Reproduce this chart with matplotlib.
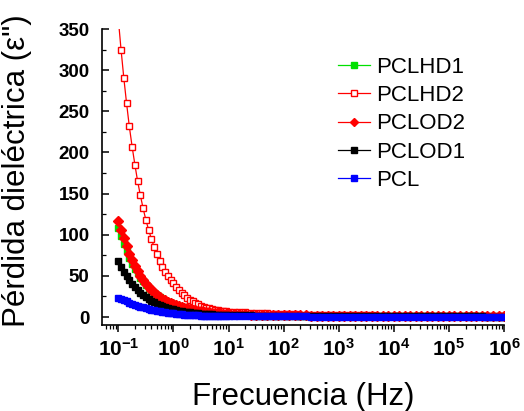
import matplotlib
matplotlib.use("Agg")
import matplotlib.pyplot as plt
from matplotlib.ticker import LogLocator, MultipleLocator, NullFormatter

plt.rcParams['font.family'] = ['Liberation Sans', 'DejaVu Sans']
plt.rcParams['mathtext.fontset'] = 'custom'
plt.rcParams['mathtext.rm'] = 'Liberation Sans'
plt.rcParams['mathtext.bf'] = 'Liberation Sans:bold'

# frequency grid (Hz): 20 pts/decade up to 10 Hz, 10 pts/decade after
freq = [0.1, 0.112, 0.126, 0.141, 0.158, 0.178, 0.2, 0.224, 0.251, 0.282,
        0.316, 0.355, 0.398, 0.447, 0.501, 0.562, 0.631, 0.708, 0.794, 0.891,
        1.0, 1.12, 1.26, 1.41, 1.58, 1.78, 2.0, 2.24, 2.51, 2.82,
        3.16, 3.55, 3.98, 4.47, 5.01, 5.62, 6.31, 7.08, 7.94, 8.91,
        10.0,
        12.6, 15.8, 20.0, 25.1, 31.6, 39.8, 50.1, 63.1, 79.4, 100.0,
        126, 158, 200, 251, 316, 398, 501, 631, 794, 1e3,
        1.26e3, 1.58e3, 2e3, 2.51e3, 3.16e3, 3.98e3, 5.01e3, 6.31e3, 7.94e3, 1e4,
        1.26e4, 1.58e4, 2e4, 2.51e4, 3.16e4, 3.98e4, 5.01e4, 6.31e4, 7.94e4, 1e5,
        1.26e5, 1.58e5, 2e5, 2.51e5, 3.16e5, 3.98e5, 5.01e5, 6.31e5, 7.94e5, 1e6]

pclhd1 = [108, 98, 89, 80, 72, 65, 58.5, 53, 48, 43.5,
          39.5, 35.5, 32, 29, 26.3, 23.9, 21.8, 19.9, 18.2, 16.7,
          15.3, 14.1, 13.0, 12.0, 11.1, 10.3, 9.5, 8.9, 8.3, 7.7,
          7.2, 6.7, 6.2, 5.8, 5.4, 5.0, 4.7, 4.4, 4.1, 3.9,
          3.7,
          3.4, 3.2, 3.0, 2.85, 2.7, 2.55, 2.4, 2.3, 2.2, 2.1,
          2.0, 1.9, 1.85, 1.8, 1.75, 1.7, 1.65, 1.6, 1.55, 1.5,
          1.45, 1.4, 1.35, 1.3, 1.28, 1.25, 1.22, 1.2, 1.18, 1.15,
          1.12, 1.1, 1.08, 1.06, 1.04, 1.02, 1.0, 0.98, 0.96, 0.95,
          0.94, 0.93, 0.92, 0.91, 0.9, 0.89, 0.88, 0.87, 0.86, 0.85]

pclhd2 = [362, 325, 290, 260, 232, 207, 185, 165, 148, 132,
          118, 106, 95, 85, 76, 68, 61, 55, 50, 45,
          41, 37, 33, 29.5, 26.5, 23.5, 21, 19, 17, 15.3,
          13.8, 12.5, 11.4, 10.4, 9.6, 8.9, 8.3, 7.8, 7.4, 7.0,
          6.7,
          6.3, 6.0, 5.7, 5.4, 5.1, 4.8, 4.5, 4.2, 3.9, 3.6,
          3.4, 3.2, 3.0, 2.9, 2.8, 2.7, 2.6, 2.5, 2.4, 2.3,
          2.2, 2.1, 2.05, 2.0, 1.95, 1.9, 1.85, 1.8, 1.75, 1.7,
          1.65, 1.6, 1.55, 1.5, 1.45, 1.4, 1.38, 1.35, 1.32, 1.3,
          1.28, 1.26, 1.24, 1.22, 1.2, 1.18, 1.16, 1.14, 1.12, 1.1]

pclod2 = [117, 106, 96, 86, 77, 69, 62, 55.5, 50, 45,
          40.5, 36.5, 33, 30, 27, 24.5, 22.3, 20.3, 18.6, 17,
          15.6, 14.3, 13.1, 12.1, 11.2, 10.4, 9.6, 9.0, 8.4, 7.8,
          7.2, 6.7, 6.2, 5.8, 5.4, 5.0, 4.7, 4.4, 4.1, 3.9,
          3.7,
          3.5, 3.3, 3.1, 2.95, 2.8, 2.65, 2.5, 2.4, 2.3, 2.2,
          2.1, 2.0, 1.95, 1.9, 1.85, 1.8, 1.75, 1.7, 1.65, 1.6,
          1.55, 1.5, 1.45, 1.4, 1.38, 1.35, 1.32, 1.3, 1.28, 1.25,
          1.22, 1.2, 1.18, 1.16, 1.14, 1.12, 1.1, 1.08, 1.06, 1.05,
          1.04, 1.03, 1.02, 1.01, 1.0, 0.99, 0.98, 0.97, 0.96, 0.95]

pclod1 = [68, 61, 55, 49.5, 44.5, 40, 36, 32.5, 29.5, 26.7,
          24.2, 21.9, 19.8, 18, 16.3, 14.8, 13.5, 12.3, 11.2, 10.2,
          9.3, 8.5, 7.8, 7.2, 6.6, 6.1, 5.6, 5.2, 4.8, 4.5,
          4.2, 3.9, 3.6, 3.4, 3.2, 3.0, 2.85, 2.7, 2.55, 2.4,
          2.3,
          2.2, 2.1, 2.0, 1.9, 1.8, 1.72, 1.65, 1.58, 1.52, 1.46,
          1.4, 1.35, 1.3, 1.26, 1.22, 1.18, 1.15, 1.12, 1.09, 1.06,
          1.03, 1.0, 0.98, 0.96, 0.94, 0.92, 0.9, 0.88, 0.86, 0.84,
          0.82, 0.8, 0.79, 0.78, 0.77, 0.76, 0.75, 0.74, 0.73, 0.72,
          0.71, 0.7, 0.69, 0.68, 0.67, 0.66, 0.65, 0.64, 0.63, 0.62]

pcl = [23.5, 22, 20.5, 19, 17.5, 16.2, 15, 13.8, 12.7, 11.7,
       10.8, 9.9, 9.1, 8.4, 7.7, 7.0, 6.4, 5.8, 5.3, 4.8,
       4.4, 4.0, 3.6, 3.3, 3.0, 2.7, 2.45, 2.25, 2.05, 1.9,
       1.75, 1.62, 1.5, 1.4, 1.3, 1.22, 1.15, 1.08, 1.02, 0.97,
       0.93,
       0.9, 0.87, 0.84, 0.82, 0.8, 0.78, 0.76, 0.74, 0.72, 0.7,
       0.69, 0.68, 0.67, 0.66, 0.65, 0.64, 0.63, 0.62, 0.61, 0.6,
       0.59, 0.58, 0.58, 0.57, 0.57, 0.56, 0.56, 0.55, 0.55, 0.54,
       0.54, 0.53, 0.53, 0.52, 0.52, 0.51, 0.51, 0.5, 0.5, 0.5,
       0.49, 0.49, 0.48, 0.48, 0.48, 0.47, 0.47, 0.47, 0.46, 0.46]

xtick_exp = [-1, 0, 1, 2, 3, 4, 5, 6]
yticks = [0, 50, 100, 150, 200, 250, 300, 350]

fig = plt.figure(figsize=(5.24, 4.11), dpi=100)
ax = fig.add_axes([0.1947, 0.2092, 0.7672, 0.7202])

lw = 0.9
ax.plot(freq, pclhd1, '-s', color='#00e000', lw=lw, ms=5.0, mec='#00e000', label='PCLHD1')
ax.plot(freq, pclhd2, '-s', color='#ff0000', lw=lw, ms=4.6, mfc='white', mec='#ff0000', mew=1.0, label='PCLHD2')
ax.plot(freq, pclod2, '-D', color='#ff0000', lw=lw, ms=4.8, label='PCLOD2')
ax.plot(freq, pclod1, '-s', color='black', lw=lw, ms=5.0, label='PCLOD1')
ax.plot(freq, pcl, '-s', color='#0000ff', lw=lw, ms=5.0, label='PCL')

ax.set_xscale('log')
ax.set_xlim(0.0506, 1e6)
ax.set_ylim(-9.7, 350)

ax.set_xticks([10.0 ** e for e in xtick_exp],
              [r'$\mathbf{10^{%d}}$' % e for e in xtick_exp])
ax.xaxis.set_minor_locator(LogLocator(base=10, subs=range(2, 10), numticks=20))
ax.xaxis.set_minor_formatter(NullFormatter())
ax.set_yticks(yticks)
ax.yaxis.set_minor_locator(MultipleLocator(25))
for lab in ax.get_yticklabels():
    lab.set_fontweight('bold')

ax.tick_params(axis='x', which='major', direction='out', length=5, width=1.1, labelsize=15, pad=4)
ax.tick_params(axis='x', which='minor', direction='out', length=3, width=0.9)
ax.tick_params(axis='y', which='major', direction='in', length=5, width=1.1, labelsize=13.5, pad=9)
ax.tick_params(axis='y', which='minor', direction='in', length=3, width=0.9)

for side in ['top', 'right']:
    ax.spines[side].set_visible(False)
for side in ['left', 'bottom']:
    ax.spines[side].set_linewidth(1.2)

ax.set_xlabel('Frecuencia (Hz)', fontsize=22.5, labelpad=16)
fig.text(0.032, 0.585, 'Pérdida dieléctrica (ε")', rotation=90, fontsize=22.5,
         ha='center', va='center')

ax.legend(loc='upper left', bbox_to_anchor=(0.645, 0.862), bbox_transform=fig.transFigure,
          frameon=False, fontsize=16, numpoints=1, handlelength=1.45, handletextpad=0.25,
          labelspacing=0.33, borderpad=0, borderaxespad=0, markerscale=0.85)

fig.savefig('out.png', dpi=100)
